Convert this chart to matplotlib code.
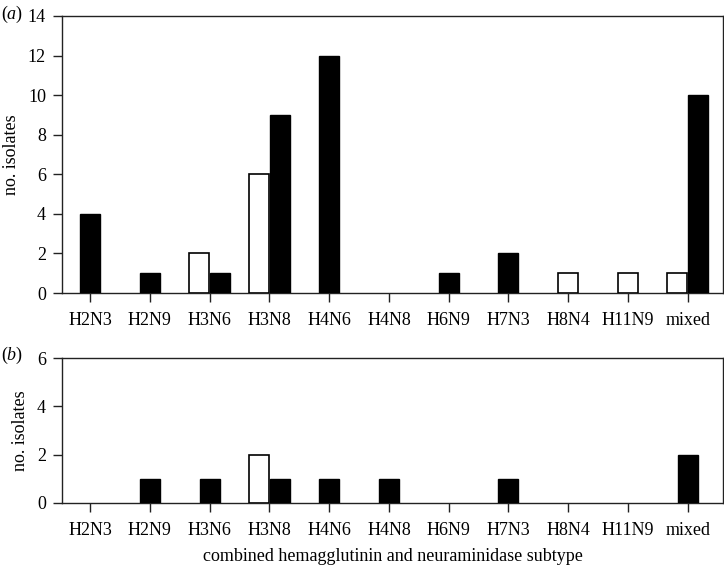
import numpy as np
import matplotlib
matplotlib.use("Agg")
import matplotlib.pyplot as plt

plt.rcParams['font.family'] = ['Liberation Serif', 'DejaVu Serif']
plt.rcParams['mathtext.fontset'] = 'custom'
plt.rcParams['mathtext.rm'] = 'Liberation Serif'
plt.rcParams['mathtext.it'] = 'Liberation Serif:italic'

# subtypes
cats = ['H2N3', 'H2N9', 'H3N6', 'H3N8', 'H4N6', 'H4N8', 'H6N9',
        'H7N3', 'H8N4', 'H11N9', 'mixed']

# panel (a)
a_white = [0, 0, 2, 6, 0, 0, 0, 0, 1, 1, 1]
a_black = [4, 1, 1, 9, 12, 0, 1, 2, 0, 0, 10]

# panel (b)
b_white = [0, 0, 0, 2, 0, 0, 0, 0, 0, 0, 0]
b_black = [0, 1, 1, 1, 1, 1, 0, 1, 0, 0, 2]

width = 0.335
off = 0.172


def draw_panel(ax, white, black, ymax):
    x = np.arange(len(cats))
    for i in x:
        w, b = white[i], black[i]
        # two bars side by side, a lone bar sits on the tick
        if w > 0 and b > 0:
            xw, xb = i - off, i + off
        else:
            xw = xb = i
        if w > 0:
            ax.bar(xw, w, width=width, color='white', edgecolor='black',
                   linewidth=1.2, zorder=3)
        if b > 0:
            ax.bar(xb, b, width=width, color='black', edgecolor='black',
                   linewidth=1.0, zorder=3)
    ax.set_xlim(-0.47, 10.59)
    ax.set_ylim(0, ymax)
    ax.set_yticks(np.arange(0, ymax + 1, 2))
    ax.set_xticks(x)
    ax.set_xticklabels(cats)
    ax.tick_params(axis='both', direction='out', length=6.5, width=1,
                   labelsize=13, colors='#222222', labelcolor='black')
    ax.tick_params(axis='x', pad=7)
    ax.tick_params(axis='y', pad=5)
    for s in ax.spines.values():
        s.set_linewidth(1.0)
        s.set_color('#222222')
    ax.set_ylabel('no. isolates', fontsize=13, labelpad=6)


fig = plt.figure(figsize=(7.24, 5.67), dpi=100)
ax1 = fig.add_axes([0.0856, 0.4832, 0.913, 0.4886])
ax2 = fig.add_axes([0.0856, 0.1129, 0.913, 0.2557])

draw_panel(ax1, a_white, a_black, 14)
draw_panel(ax2, b_white, b_black, 6)

ax2.set_xlabel('combined hemagglutinin and neuraminidase subtype',
               fontsize=13, labelpad=7)

fig.text(0.002, 0.975, r'($\mathit{a}$)', fontsize=13, va='center', ha='left')
fig.text(0.002, 0.373, r'($\mathit{b}$)', fontsize=13, va='center', ha='left')

fig.savefig('out.png', dpi=100)
